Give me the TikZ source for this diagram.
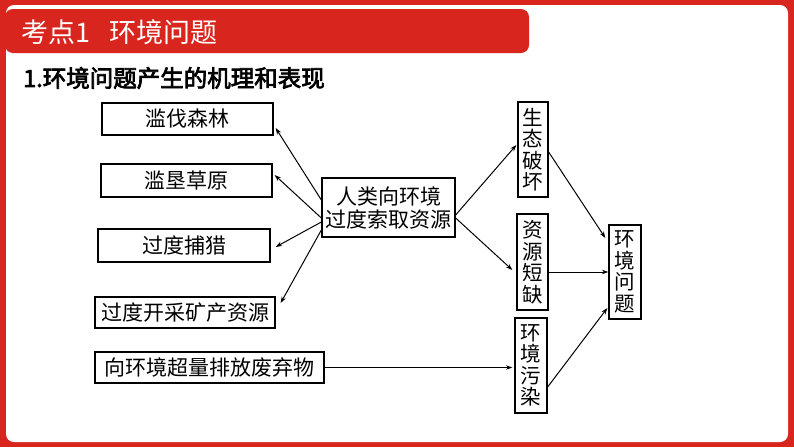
\documentclass[tikz,border=0pt]{standalone}
\usepackage{fontspec}
\usetikzlibrary{arrows.meta,calc}
\setmainfont{Liberation Serif}
\newfontfamily\cjk{Noto Sans CJK SC}
\newfontfamily\cjkb[FakeBold=3]{Noto Sans CJK SC}
\definecolor{hdred}{RGB}{216,38,30}
\tikzset{
  box/.style={draw=black,line width=1.3pt,inner sep=0pt,align=center,
    font=\cjk\fontsize{21}{23}\selectfont,text=black},
  vbox/.style={box,font=\cjk\fontsize{20.5}{21.5}\selectfont},
  arr/.style={line width=1pt,-{Stealth[length=6.5pt,width=4.5pt]}}
}
\begin{document}
\begin{tikzpicture}[x=1pt,y=-1pt]
\useasboundingbox (0,0) rectangle (794,447);
\fill[hdred] (0,0) rectangle (794,447);
\fill[white,rounded corners=8pt] (6,5) rectangle (788,442);
\fill[hdred,rounded corners=8pt] (5,9) rectangle (529,53);
\node[anchor=west,text=white,font=\cjk\fontsize{27}{30}\selectfont,inner sep=0pt] (title) at (21,32) {考点1\hspace{0.7em}环境问题};
\node[anchor=west,text=black,font=\cjkb\fontsize{23.5}{26}\selectfont,inner sep=0pt] (sub) at (23,78) {1.环境问题产生的机理和表现};

\node[box,minimum width=171pt,minimum height=32pt] (b1) at (187.5,119) {滥伐森林};
\node[box,minimum width=171pt,minimum height=33pt] (b2) at (186.5,180.5) {滥垦草原};
\node[box,minimum width=172pt,minimum height=33pt] (b3) at (184,245.5) {过度捕猎};
\node[box,minimum width=180pt,minimum height=31pt] (b4) at (185,312.5) {过度开采矿产资源};
\node[box,minimum width=229pt,minimum height=31pt] (b5) at (209.5,367.5) {向环境超量排放废弃物};
\node[box,minimum width=133pt,minimum height=59pt] (rl) at (388.5,207.5) {人类向环境\\过度索取资源};
\node[vbox,minimum width=30pt,minimum height=95pt] (s1) at (533,149.5) {生\\态\\破\\坏};
\node[vbox,minimum width=31pt,minimum height=96pt] (s2) at (532.5,262) {资\\源\\短\\缺};
\node[vbox,minimum width=32pt,minimum height=95pt] (s3) at (531,365.5) {环\\境\\污\\染};
\node[vbox,minimum width=32pt,minimum height=94pt] (hj) at (625,272) {环\\境\\问\\题};

\draw[arr] ($(rl.west)+(0,-7.5)$) -- ($(b1.east)+(2,9)$);
\draw[arr] ($(rl.west)+(0,10.5)$) -- ($(b2.east)+(2,-5.5)$);
\draw[arr] ($(rl.west)+(0,14.5)$) -- ($(b3.east)+(5,1.5)$);
\draw[arr] ($(rl.west)+(0,22.5)$) -- ($(b4.east)+(5,-9.5)$);
\draw[arr] ($(rl.east)+(0,7.5)$) -- ($(s1.west)+(-1,-4.5)$);
\draw[arr] ($(rl.east)+(0,10.5)$) -- ($(s2.west)+(-4,8)$);
\draw[arr] (s2.east |- hj.west) -- (hj.west);
\draw[arr] ($(s1.east)+(0,2.5)$) -- ($(hj.west)+(-3,-34)$);
\draw[arr] ($(s3.east)+(0,21.5)$) -- ($(hj.west)+(-1,36)$);
\draw[arr] (b5.east) -- ($(b5.east -| s3.west)+(-2,0)$);
\end{tikzpicture}
\end{document}
